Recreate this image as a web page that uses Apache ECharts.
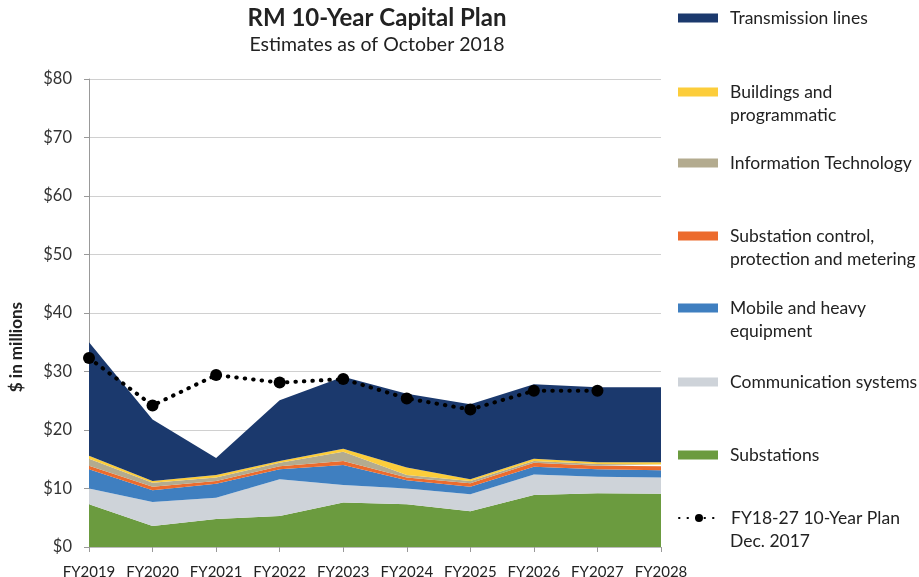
<!DOCTYPE html>
<html>
<head>
<meta charset="utf-8">
<script src="https://cdn.jsdelivr.net/npm/echarts@6/dist/echarts.min.js"></script>
<style>
html,body{margin:0;padding:0;background:#fff;}
#chart{width:919px;height:577px;}
</style>
</head>
<body>
<div id="chart"></div>
<script>
var categories = ['FY2019','FY2020','FY2021','FY2022','FY2023','FY2024','FY2025','FY2026','FY2027','FY2028'];
var substations = [7.3, 3.6, 4.8, 5.3, 7.6, 7.3, 6.1, 8.9, 9.2, 9.1];
var communication = [2.7, 4.1, 3.6, 6.3, 3.0, 2.7, 2.9, 3.5, 2.8, 2.8];
var mobile = [3.3, 2.0, 2.4, 1.7, 3.4, 1.4, 1.3, 1.3, 1.3, 1.2];
var substationControl = [0.6, 0.6, 0.5, 0.5, 0.7, 0.5, 0.6, 0.7, 0.6, 0.7];
var infoTech = [1.2, 0.7, 0.6, 0.6, 1.6, 0.4, 0.4, 0.3, 0.3, 0.3];
var buildings = [0.5, 0.3, 0.4, 0.3, 0.5, 1.3, 0.3, 0.4, 0.3, 0.4];
var transmission = [19.4, 10.5, 2.9, 10.4, 12.3, 12.6, 12.8, 12.7, 12.8, 12.8];
var plan2017 = [32.3, 24.2, 29.4, 28.1, 28.7, 25.4, 23.5, 26.7, 26.7, null];
var yTicks = ['$0','$10','$20','$30','$40','$50','$60','$70','$80'];

var FONT = 'Lato, "Open Sans", sans-serif';
var TXT = '#222';

function area(name, data, color) {
  return {
    name: name, type: 'line', stack: 'total', data: data,
    showSymbol: false, symbol: 'none', smooth: false,
    lineStyle: { width: 0, color: color },
    itemStyle: { color: color },
    areaStyle: { color: color, opacity: 1 },
    emphasis: { disabled: true }
  };
}

var legendItems = [
  { name: 'Transmission lines', y: 18 },
  { name: 'Buildings and', y: 92, second: 'programmatic' },
  { name: 'Information Technology', y: 163 },
  { name: 'Substation control,', y: 236, second: 'protection and metering' },
  { name: 'Mobile and heavy', y: 308, second: 'equipment' },
  { name: 'Communication systems', y: 382 },
  { name: 'Substations', y: 455 },
  { name: 'FY18-27 10-Year Plan', y: 518, second: 'Dec. 2017' }
];

var legends = legendItems.map(function (it) {
  var isLine = it.name === 'FY18-27 10-Year Plan';
  var l = {
    data: [it.name], left: 678, top: it.y - 11, padding: 0,
    itemWidth: 40, itemHeight: isLine ? 10 : 9,
    textStyle: { fontFamily: FONT, fontSize: 17.5, color: TXT, padding: [0, 0, 0, 7], lineHeight: 22 },
    selectedMode: false
  };
  if (!isLine) l.icon = 'rect';
  return l;
});

var graphics = legendItems.filter(function (it) { return it.second; }).map(function (it) {
  return {
    type: 'text', left: 730, top: it.y + 23 - 11,
    style: { text: it.second, fontFamily: FONT, fontSize: 17.5, fill: TXT, lineHeight: 22 }
  };
});
graphics.push({
  type: 'text', left: 8, top: 302, rotation: Math.PI / 2,
  style: { text: '$ in millions', fontFamily: FONT, fontSize: 17, fontWeight: 'bold', fill: TXT,
    align: 'center', verticalAlign: 'middle' },
  x: 17, y: 302
});

var chart = echarts.init(document.getElementById('chart'));
chart.setOption({
  animation: false,
  backgroundColor: '#fff',
  title: {
    text: 'RM 10-Year Capital Plan',
    subtext: 'Estimates as of October 2018',
    left: 372, top: 1, textAlign: 'center', itemGap: 5,
    textStyle: { fontFamily: FONT, fontSize: 24, fontWeight: 'bold', color: TXT },
    subtextStyle: { fontFamily: FONT, fontSize: 19.5, color: TXT }
  },
  legend: legends,
  graphic: graphics,
  grid: { left: 89, right: 258, top: 79, bottom: 30, containLabel: false, outerBoundsMode: 'none' },
  xAxis: {
    type: 'category', data: categories, boundaryGap: false,
    axisLine: { show: true, lineStyle: { color: '#bbb', width: 1 } },
    axisTick: { show: true, alignWithLabel: true, length: 5, interval: 0, lineStyle: { color: '#999' } },
    axisLabel: { fontFamily: FONT, fontSize: 15, color: TXT, margin: 18, interval: 0 },
    splitLine: { show: false }
  },
  yAxis: {
    type: 'value', min: 0, max: 80, interval: 10,
    axisLine: { show: true, lineStyle: { color: '#999', width: 1 } },
    axisTick: { show: true, length: 5, lineStyle: { color: '#999' } },
    axisLabel: { fontFamily: FONT, fontSize: 16.5, color: '#333', margin: 17,
      formatter: function (v) { return yTicks[Math.round(v / 10)]; } },
    splitLine: { show: true, lineStyle: { color: '#d0d0d0', width: 1 } }
  },
  series: [
    area('Substations', substations, '#6b9b3f'),
    area('Communication systems', communication, '#ced3d9'),
    area('Mobile and heavy', mobile, '#3f7fc0'),
    area('Substation control,', substationControl, '#ec6b2d'),
    area('Information Technology', infoTech, '#b3ab8f'),
    area('Buildings and', buildings, '#fccd3b'),
    area('Transmission lines', transmission, '#1b396d'),
    {
      name: 'FY18-27 10-Year Plan', type: 'line', data: plan2017, z: 5,
      symbol: 'circle', symbolSize: 12, showSymbol: true,
      itemStyle: { color: '#000' },
      lineStyle: { color: '#000', width: 4, type: [0.5, 8], cap: 'round' },
      emphasis: { disabled: true }
    }
  ]
});
</script>
</body>
</html>
